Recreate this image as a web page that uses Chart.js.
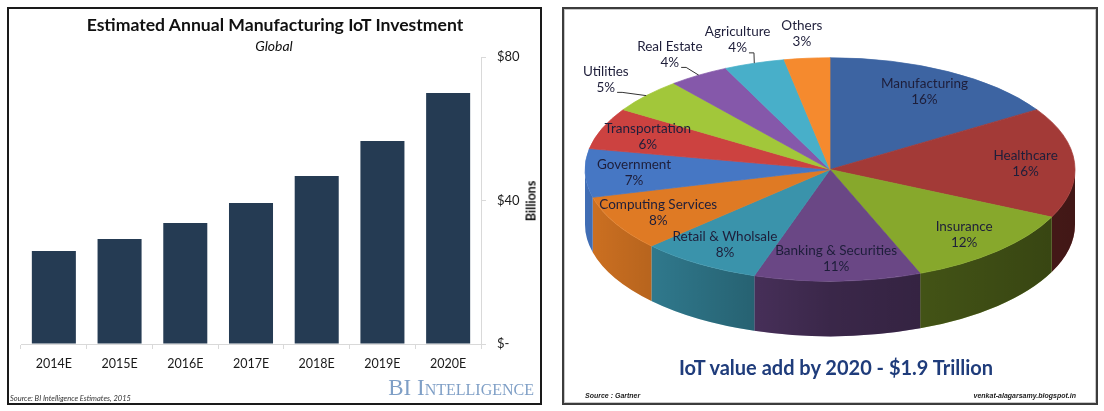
<!DOCTYPE html>
<html>
<head>
<meta charset="utf-8">
<script src="https://cdn.jsdelivr.net/npm/chart.js@4.4.1/dist/chart.umd.min.js"></script>
<style>
  body { margin: 0; width: 1104px; height: 411px; background: #fff; position: relative; overflow: hidden; font-family: Lato, sans-serif; }
  .panel { position: absolute; box-sizing: border-box; }
  #leftPanel { left: 7px; top: 7px; width: 535px; height: 398px; border: 2px solid #1a1a1a; }
  #rightPanel { left: 562px; top: 7px; width: 536px; height: 398px; border: 2px solid #3c3c3c; box-shadow: inset 0 0 0 1px #c8c8c8; }
  .wrap { position: absolute; }
  .t { position: absolute; white-space: nowrap; transform: translate(-50%, -50%); }
</style>
</head>
<body>
<div class="panel" id="leftPanel"></div>
<div class="panel" id="rightPanel"></div>

<div class="wrap" style="left:0;top:0;width:552px;height:411px"><canvas id="bars"></canvas></div>
<div class="wrap" style="left:563px;top:-76.5px;width:534px;height:491px"><canvas id="pie"></canvas></div>

<div class="t" style="left:275px;top:24px;font-weight:700;font-size:17.6px;color:#111">Estimated Annual Manufacturing IoT Investment</div>
<div class="t" style="left:274px;top:45px;font-style:italic;font-size:14px;color:#111">Global</div>
<div class="t" style="left:531px;top:201px;font-weight:700;font-size:12.5px;color:#111;transform:translate(-50%,-50%) rotate(-90deg)">Billions</div>
<div class="t" style="left:534px;top:388px;transform:translate(-100%,-50%);font-family:'Liberation Serif',serif;font-variant:small-caps;font-size:23px;color:#7f9fc6">BI Intelligence</div>
<div class="t" style="left:10px;top:398px;transform:translate(0,-50%);font-style:italic;font-size:7.5px;color:#333">Source: BI Intelligence Estimates, 2015</div>

<div class="t" style="left:836px;top:367px;font-weight:700;font-size:20px;color:#1f3c7b">IoT value add by 2020 - $1.9 Trillion</div>
<div class="t" style="left:585px;top:395px;transform:translate(0,-50%);font-family:'Liberation Sans',sans-serif;font-weight:700;font-style:italic;font-size:7px;color:#222">Source : Gartner</div>
<div class="t" style="left:1076px;top:395px;transform:translate(-100%,-50%);font-family:'Liberation Sans',sans-serif;font-weight:700;font-style:italic;font-size:7px;color:#222">venkat-alagarsamy.blogspot.in</div>

<script>
// left chart: estimated annual manufacturing IoT investment, $ billions
const years = ['2014E', '2015E', '2016E', '2017E', '2018E', '2019E', '2020E'];
const investment = [25.9, 29.3, 33.7, 39.3, 46.8, 56.6, 70.0];
const yTicks = [0, 40, 80];

// right chart: IoT value add by sector, percent
const sectors = ['Manufacturing', 'Healthcare', 'Insurance', 'Banking & Securities', 'Retail & Wholsale',
  'Computing Services', 'Government', 'Transportation', 'Utilities', 'Real Estate', 'Agriculture', 'Others'];
const shares = [16, 16, 12, 11, 8, 8, 7, 6, 5, 4, 4, 3];
const sectorColors = ['#3d64a2', '#a33a37', '#87a82c', '#6a4785', '#3a93ab', '#df7a24',
  '#4677c4', '#cc4240', '#a2c73a', '#8558aa', '#48afc9', '#f58a2e'];

const axisGrey = '#d9d9d9';

new Chart(document.getElementById('bars'), {
  type: 'bar',
  data: {
    labels: years,
    datasets: [{
      data: investment,
      backgroundColor: '#253b53',
      barPercentage: 0.67,
      categoryPercentage: 1
    }]
  },
  options: {
    responsive: true,
    maintainAspectRatio: false,
    animation: false,
    events: [],
    layout: { padding: { left: 21, top: 57, right: 0, bottom: 0 } },
    plugins: { legend: { display: false }, tooltip: { enabled: false } },
    scales: {
      x: {
        grid: { drawOnChartArea: false, tickLength: 5, color: axisGrey, offset: true },
        border: { color: axisGrey },
        ticks: { font: { family: 'Lato', size: 12.5 }, color: '#1a1a1a', padding: 7 },
        afterFit: s => { s.height = 67; }
      },
      y: {
        position: 'right',
        min: 0,
        max: 80,
        afterBuildTicks: s => { s.ticks = yTicks.map(v => ({ value: v })); },
        grid: { drawOnChartArea: false, tickLength: 5, color: axisGrey },
        border: { color: axisGrey },
        ticks: {
          callback: v => v === 0 ? '$-' : '$' + v,
          font: { family: 'Lato', size: 13 },
          color: '#1a1a1a',
          padding: 11
        },
        afterFit: s => { s.width = 71; }
      }
    }
  }
});

// squash the pie into an ellipse and give it a side wall
const tilt = 0.456;
const depth = 55;

const pie3d = {
  id: 'pie3d',
  beforeDatasetsDraw(chart) {
    const ctx = chart.ctx;
    const arcs = chart.getDatasetMeta(0).data;
    const { x: cx, y: cy, outerRadius: R } = arcs[0];
    arcs.forEach((a, i) => {
      const lo = Math.max(a.startAngle, 0);
      const hi = Math.min(a.endAngle, Math.PI);
      if (lo >= hi) return;
      ctx.beginPath();
      ctx.ellipse(cx, cy, R, R * tilt, 0, lo, hi);
      ctx.ellipse(cx, cy + depth, R, R * tilt, 0, hi, lo, true);
      ctx.closePath();
      ctx.fillStyle = sectorColors[i];
      ctx.fill();
      const g = ctx.createLinearGradient(cx - R, 0, cx + R, 0);
      g.addColorStop(0, 'rgba(0,0,0,0.08)');
      g.addColorStop(0.5, 'rgba(0,0,0,0.45)');
      g.addColorStop(1, 'rgba(0,0,0,0.6)');
      ctx.fillStyle = g;
      ctx.fill();
    });
    ctx.save();
    ctx.translate(cx, cy);
    ctx.scale(1, tilt);
    ctx.translate(-cx, -cy);
  },
  afterDatasetsDraw(chart) {
    const ctx = chart.ctx;
    ctx.restore();
    const arcs = chart.getDatasetMeta(0).data;
    const { x: cx, y: cy, outerRadius: R } = arcs[0];
    ctx.save();
    ctx.font = '13.5px Lato';
    ctx.fillStyle = '#1e1e3a';
    ctx.strokeStyle = '#333';
    ctx.lineWidth = 1;
    ctx.textAlign = 'center';
    ctx.textBaseline = 'middle';
    arcs.forEach((a, i) => {
      const mid = (a.startAngle + a.endAngle) / 2;
      const outside = shares[i] <= 5;
      const r = R * (outside ? 1.22 : 0.8);
      const x = cx + r * Math.cos(mid);
      const y = cy + r * Math.sin(mid) * tilt;
      const pct = shares[i] + '%';
      ctx.fillText(sectors[i], x, y - 8);
      ctx.fillText(pct, x, y + 8);
      if (outside) {
        const ex = cx + R * Math.cos(mid);
        const ey = cy + R * Math.sin(mid) * tilt;
        const px = x + ctx.measureText(pct).width / 2 + 2;
        if (ex > px + 4) {
          ctx.beginPath();
          ctx.moveTo(px, y + 13);
          ctx.lineTo(px + 5, y + 13);
          ctx.lineTo(ex, ey);
          ctx.stroke();
        }
      }
    });
    ctx.restore();
  }
};

new Chart(document.getElementById('pie'), {
  type: 'pie',
  data: {
    labels: sectors,
    datasets: [{
      data: shares,
      backgroundColor: sectorColors,
      borderColor: sectorColors,
      borderWidth: 1,
      clip: false
    }]
  },
  options: {
    responsive: true,
    maintainAspectRatio: false,
    animation: false,
    events: [],
    layout: { padding: { left: 21.5, right: 21.5, top: 0, bottom: 0 } },
    plugins: { legend: { display: false }, tooltip: { enabled: false } }
  },
  plugins: [pie3d]
});
</script>
</body>
</html>
